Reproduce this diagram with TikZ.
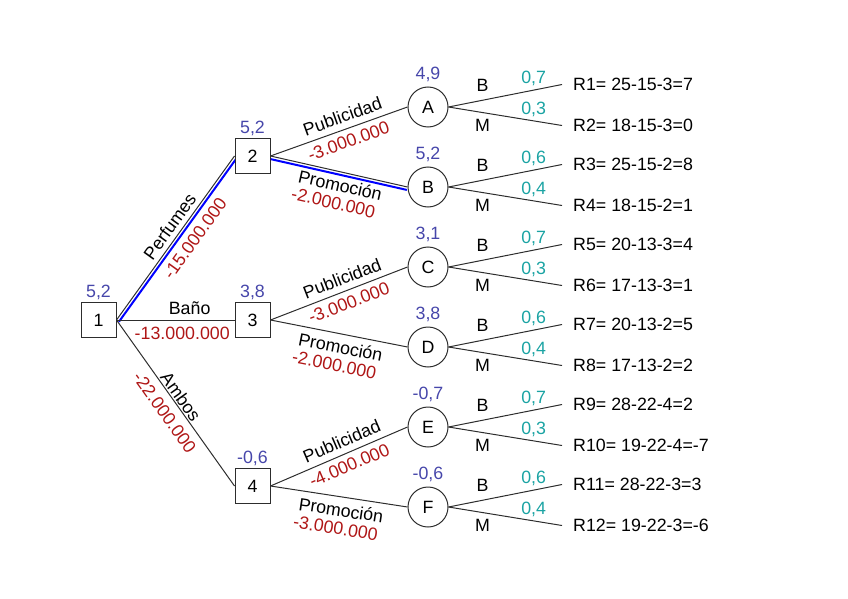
\documentclass[tikz,border=0pt]{standalone}
\usepackage{fontspec}
\setmainfont{Liberation Sans}
\usetikzlibrary{calc,backgrounds}
\definecolor{valblue}{RGB}{70,70,170}
\definecolor{costred}{RGB}{175,22,22}
\definecolor{probteal}{RGB}{26,163,163}
\definecolor{linegray}{RGB}{45,45,45}
\begin{document}
\begin{tikzpicture}[x=1pt,y=-1pt,
  every node/.style={font=\fontsize{17.8}{21}\selectfont},
  dbox/.style={draw=linegray, line width=1pt, fill=white, minimum size=35pt, inner sep=0pt},
  chance/.style={circle, draw=linegray, line width=1pt, fill=white, minimum size=40pt, inner sep=0pt},
  conn/.style={draw=linegray, line width=1pt},
  best/.style={draw=blue, line width=2pt},
  val/.style={text=valblue, anchor=base, inner sep=0pt},
  lab/.style={inner sep=0pt, sloped},
  cost/.style={text=costred, inner sep=0pt, sloped},
  prob/.style={text=probteal, anchor=base, inner sep=0pt},
  br/.style={anchor=base, inner sep=0pt},
  res/.style={anchor=west, inner xsep=11pt, inner ysep=0pt},
]
\useasboundingbox (0,0) rectangle (848,599);

% decision nodes
\node[dbox] (n1) at (98.5,320) {1};
\node[dbox] (n2) at (252.5,156) {2};
\node[dbox] (n3) at (252.5,320) {3};
\node[dbox] (n4) at (252.5,486) {4};
% chance nodes
\node[chance] (A) at (428,107) {A};
\node[chance] (B) at (428,187) {B};
\node[chance] (C) at (428,267) {C};
\node[chance] (D) at (428,347) {D};
\node[chance] (E) at (428,427) {E};
\node[chance] (F) at (428,507) {F};

% expected values
\node[val, yshift=4.5pt] (v1) at (n1.north) {5,2};
\node[val, yshift=4.5pt] (v2) at (n2.north) {5,2};
\node[val, yshift=4.5pt] (v3) at (n3.north) {3,8};
\node[val, yshift=4.5pt] (v4) at (n4.north) {-0,6};
\node[val, yshift=7pt] (vA) at (A.north) {4,9};
\node[val, yshift=7pt] (vB) at (B.north) {5,2};
\node[val, yshift=7pt] (vC) at (C.north) {3,1};
\node[val, yshift=7pt] (vD) at (D.north) {3,8};
\node[val, yshift=7pt] (vE) at (E.north) {-0,7};
\node[val, yshift=7pt] (vF) at (F.north) {-0,6};

% results
\foreach \c/\i/\j/\ra/\rb in {A/1/2/{25-15-3=7}/{18-15-3=0},
                              B/3/4/{25-15-2=8}/{18-15-2=1},
                              C/5/6/{20-13-3=4}/{17-13-3=1},
                              D/7/8/{20-13-2=5}/{17-13-2=2},
                              E/9/10/{28-22-4=2}/{19-22-4=-7},
                              F/11/12/{28-22-3=3}/{19-22-3=-6}}{
  \node[res] (R\i) at ($(\c.center)+(134,-22.5)$) {R\i= \ra};
  \node[res] (R\j) at ($(\c.center)+(134,18.5)$) {R\j= \rb};
}

\begin{scope}[on background layer]
% first level
\draw[conn] (n1.east) -- node[lab, above=4.4pt, pos=0.53]{Perfumes}
   node[cost, below=9pt, pos=0.556]{-15.000.000} (n2.west);
\draw[best] ($(n1.east)!3pt!-90:(n2.west)$) -- ($(n2.west)!3pt!90:(n1.east)$);
\draw[conn] (n1.east) -- node[lab, above=5pt, pos=0.62]{Baño}
   node[cost, below=6.5pt, pos=0.557]{-13.000.000} (n3.west);
\draw[conn] (n1.east) -- node[lab, above=1pt, pos=0.49]{Ambos}
   node[cost, below=7.5pt, pos=0.507]{-22.000.000} (n4.west);

% second level
\draw[conn] (n2.east) -- node[lab, above=6pt, pos=.557]{Publicidad}
   node[cost, below=5.5pt, pos=.54]{-3.000.000} (A.west);
\draw[conn] (n2.east) -- node[lab, below=6pt, pos=.53]{Promoción}
   node[cost, below=25pt, pos=.51]{-2.000.000} (B.west);
\draw[best] ($(n2.east)!3pt!-90:(B.west)$) -- ($(B.west)!3pt!90:(n2.east)$);
\draw[conn] (n3.east) -- node[lab, above=6pt, pos=.557]{Publicidad}
   node[cost, below=5.5pt, pos=.54]{-3.000.000} (C.west);
\draw[conn] (n3.east) -- node[lab, below=6pt, pos=.53]{Promoción}
   node[cost, below=25pt, pos=.51]{-2.000.000} (D.west);
\draw[conn] (n4.east) -- node[lab, above=6pt, pos=.557]{Publicidad}
   node[cost, below=5.5pt, pos=.54]{-4.000.000} (E.west);
\draw[conn] (n4.east) -- node[lab, below=6pt, pos=.53]{Promoción}
   node[cost, below=25pt, pos=.51]{-3.000.000} (F.west);

% chance branches
\foreach \c/\i/\j/\pa/\pb in {A/1/2/{0,7}/{0,3}, B/3/4/{0,6}/{0,4},
                              C/5/6/{0,7}/{0,3}, D/7/8/{0,6}/{0,4},
                              E/9/10/{0,7}/{0,3}, F/11/12/{0,6}/{0,4}}{
  \draw[conn] (\c.east) -- node[br, pos=.3, yshift=8.9pt]{B}
     node[prob, pos=.75, yshift=6.8pt]{\pa} (R\i.west);
  \draw[conn] (\c.east) -- node[br, pos=.3, yshift=-18.9pt]{M}
     node[prob, pos=.75, yshift=5.9pt]{\pb} (R\j.west);
}
\end{scope}
\end{tikzpicture}
\end{document}
